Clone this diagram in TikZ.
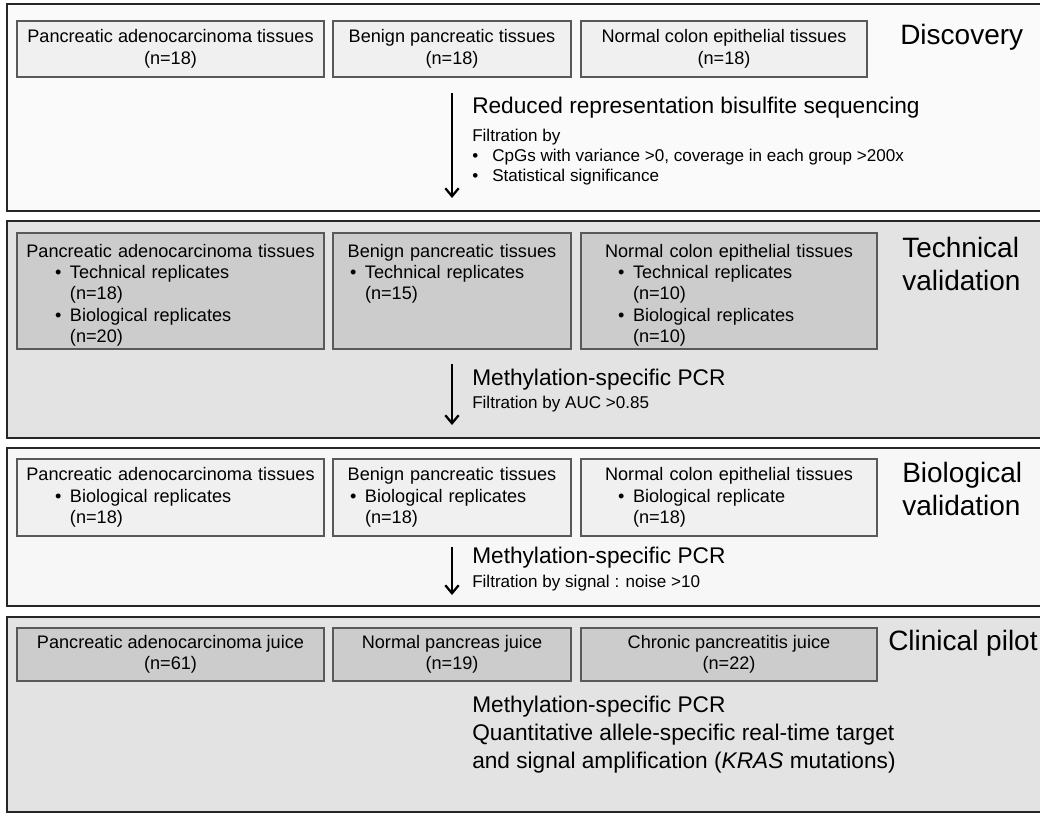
\documentclass[tikz,border=0pt]{standalone}
\usepackage{fontspec}
\setmainfont{Liberation Sans}
\usepackage{tikz}
\usetikzlibrary{arrows.meta,positioning}

\newcommand{\bitem}[2]{\makebox[\linewidth][l]{\hspace*{#1}\makebox[11.25pt][l]{\textbullet}#2}}
\newcommand{\bcont}[2]{\makebox[\linewidth][l]{\hspace*{#1}\hspace*{11.25pt}#2}}

\begin{document}
\begin{tikzpicture}[
  x=0.75pt, y=-0.75pt,
  panel/.style={draw=black!85,line width=1.1pt},
  lbox/.style={draw=black!65,line width=0.8pt,fill=black!6,inner xsep=0pt,inner ysep=4pt,
    align=center,font=\fontsize{13.6}{16.5}\selectfont},
  dbox/.style={lbox,fill=black!20},
  col1/.style={text width=230.25pt},
  col2/.style={text width=178.5pt},
  col3/.style={text width=222pt},
  tall/.style={text height=14pt,text depth=65pt,font=\fontsize{13.6}{16}\selectfont},
  big/.style={inner sep=0pt,anchor=west,font=\fontsize{17}{21}\selectfont},
  small/.style={inner sep=0pt,anchor=west,font=\fontsize{12.8}{15}\selectfont},
  stage/.style={inner sep=0pt,anchor=west,align=left,font=\fontsize{21}{24.75}\selectfont},
  flow/.style={line width=1.7pt,-{Straight Barb[length=6pt,width=10pt,line width=1.7pt]}}
]
\clip (0,0) rectangle (1040,814);
\fill[white] (0,0) rectangle (1040,814);

% panels
\draw[panel,fill=black!2] (7,4) rectangle (1050,211);
\draw[panel,fill=black!11] (7,221) rectangle (1050,438);
\draw[panel,fill=black!3] (7,448) rectangle (1050,606);
\draw[panel,fill=black!11] (7,617) rectangle (1050,812);

% discovery
\node[lbox,minimum width=230.25pt,minimum height=42pt] (d1) at (170.5,49) {Pancreatic adenocarcinoma tissues\\(n=18)};
\node[lbox,minimum width=178.5pt,minimum height=42pt] (d2) at (452,49) {Benign pancreatic tissues\\(n=18)};
\node[lbox,minimum width=214.5pt,minimum height=42pt] (d3) at (724,49) {Normal colon epithelial tissues\\(n=18)};
\node[stage] (s1) at (900,37) {Discovery};
\node[big] (m1) at (472,108) {Reduced representation bisulfite sequencing};
\node[small,anchor=north west,align=left] (f1) at (472,129) {Filtration by\\
  \makebox[15pt][l]{\textbullet}CpGs with variance >0, coverage in each group >200x\\
  \makebox[15pt][l]{\textbullet}Statistical significance};
\coordinate (a1s) at (452,93);
\coordinate (a1e) at (452,198);
\draw[flow] (a1s) -- (a1e);

% technical validation
\node[dbox,tall,col1] (t1) at (170.5,291) {Pancreatic adenocarcinoma tissues\\
  \bitem{28.5pt}{Technical replicates}\\
  \bcont{28.5pt}{(n=18)}\\
  \bitem{28.5pt}{Biological replicates}\\
  \bcont{28.5pt}{(n=20)}};
\node[dbox,tall,col2] (t2) at (452,291) {Benign pancreatic tissues\\
  \bitem{12.75pt}{Technical replicates}\\
  \bcont{12.75pt}{(n=15)}};
\node[dbox,tall,col3] (t3) at (729,291) {Normal colon epithelial tissues\\
  \bitem{27.75pt}{Technical replicates}\\
  \bcont{27.75pt}{(n=10)}\\
  \bitem{27.75pt}{Biological replicates}\\
  \bcont{27.75pt}{(n=10)}};
\node[stage] (s2) at (902,263.5) {Technical\\validation};
\node[big] (m2) at (472,380) {Methylation-specific PCR};
\node[small] (f2) at (472,404) {Filtration by AUC >0.85};
\coordinate (a2s) at (452,364);
\coordinate (a2e) at (452,425);
\draw[flow] (a2s) -- (a2e);

% biological validation
\node[lbox,col1,minimum height=57.75pt,font=\fontsize{13.6}{16}\selectfont] (b1) at (170.5,497.5) {Pancreatic adenocarcinoma tissues\\
  \bitem{28.5pt}{Biological replicates}\\
  \bcont{28.5pt}{(n=18)}};
\node[lbox,col2,minimum height=57.75pt,font=\fontsize{13.6}{16}\selectfont] (b2) at (452,497.5) {Benign pancreatic tissues\\
  \bitem{12.75pt}{Biological replicates}\\
  \bcont{12.75pt}{(n=18)}};
\node[lbox,col3,minimum height=57.75pt,font=\fontsize{13.6}{16}\selectfont] (b3) at (729,497.5) {Normal colon epithelial tissues\\
  \bitem{27.75pt}{Biological replicate}\\
  \bcont{27.75pt}{(n=18)}};
\node[stage] (s3) at (902,489) {Biological\\validation};
\node[big] (m3) at (472,558) {Methylation-specific PCR};
\node[small] (f3) at (472,583) {Filtration by signal : noise >10};
\coordinate (a3s) at (452,547);
\coordinate (a3e) at (452,595);
\draw[flow] (a3s) -- (a3e);

% clinical pilot
\node[dbox,minimum width=230.25pt,minimum height=39.75pt,font=\fontsize{13.6}{16}\selectfont] (c1) at (170.5,654.5) {Pancreatic adenocarcinoma juice\\(n=61)};
\node[dbox,minimum width=178.5pt,minimum height=39.75pt,font=\fontsize{13.6}{16}\selectfont] (c2) at (452,654.5) {Normal pancreas juice\\(n=19)};
\node[dbox,minimum width=222pt,minimum height=39.75pt,font=\fontsize{13.6}{16}\selectfont] (c3) at (729,654.5) {Chronic pancreatitis juice\\(n=22)};
\node[stage] (s4) at (888,643) {Clinical pilot};
\node[big,align=left] (m4) at (472,735) {Methylation-specific PCR\\
  Quantitative allele-specific real-time target\\
  and signal amplification (\textit{KRAS} mutations)};
\end{tikzpicture}
\end{document}
